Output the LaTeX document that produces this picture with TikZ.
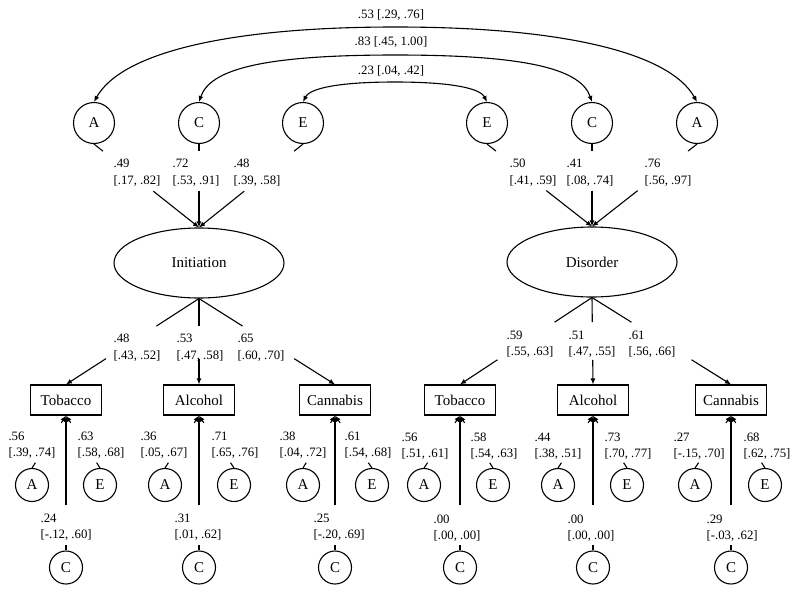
\documentclass[tikz,border=0pt]{standalone}
\usepackage{fontspec}
\setmainfont{Liberation Serif}
\usetikzlibrary{arrows.meta,shapes.geometric}
\begin{document}
\begin{tikzpicture}[x=1pt,y=-1pt,line width=1.1pt,
 arr/.style={-{Latex[length=6pt,width=5pt]}},
 darr/.style={{Latex[length=6pt,width=5pt]}-{Latex[length=6pt,width=5pt]}},
 bigc/.style={circle,draw,minimum size=41pt,inner sep=0pt,font=\fontsize{15}{18}\selectfont},
 smallc/.style={circle,draw,minimum size=33pt,inner sep=0pt,font=\fontsize{15}{18}\selectfont},
 lat/.style={ellipse,draw,minimum width=170pt,minimum height=70pt,inner sep=0pt,font=\fontsize{15}{18}\selectfont},
 obs/.style={rectangle,draw,minimum width=71pt,minimum height=30pt,inner sep=0pt,font=\fontsize{15}{18}\selectfont},
 lab/.style={align=left,anchor=base west,inner sep=0pt,yshift=-16.3pt,font=\fontsize{12.8}{16.3}\selectfont},
 arclab/.style={anchor=base,inner sep=0pt,font=\fontsize{12.8}{16}\selectfont}]
\useasboundingbox (0,0) rectangle (800,592);

% top latent factors
\node[bigc] (A1) at (94,123) {A};
\node[bigc] (C1) at (199,123) {C};
\node[bigc] (E1) at (303,123) {E};
\node[bigc] (E2) at (487,123) {E};
\node[bigc] (C2) at (592,123) {C};
\node[bigc] (A2) at (697,123) {A};

\node[lat] (Init) at (199,263) {Initiation};
\node[lat] (Dis) at (592,262) {Disorder};

% correlations
\draw[darr] (A1.north) .. controls (120,55) and (220,27) .. (395.5,27)
  .. controls (571,27) and (671,55) .. (A2.north);
\draw[darr] (C1.north) .. controls (210,70) and (260,55) .. (395.5,55)
  .. controls (531,55) and (581,70) .. (C2.north);
\draw[darr] (E1.north) .. controls (310,88) and (340,82) .. (395,82)
  .. controls (450,82) and (480,88) .. (E2.north);
\node[arclab] (r1) at (391,18.3) {.53 [.29, .76]};
\node[arclab] (r2) at (391,45) {.83 [.45, 1.00]};
\node[arclab] (r3) at (391,74) {.23 [.04, .42]};

% paths to latent
\foreach \s/\t in {A1/Init,C1/Init,E1/Init,E2/Dis,C2/Dis,A2/Dis}{
  \path (\s.south) -- (\t.north) coordinate[pos=0.085] (\s-p) coordinate[pos=0.565] (\s-q);
  \draw (\s.south) -- (\s-p);
  \draw[arr] (\s-q) -- (\t.north);
}
\node[lab] (lA1) at (113,167.7) {.49\\{}[.17, .82]};
\node[lab] (lC1) at (172,167.7) {.72\\{}[.53, .91]};
\node[lab] (lE1) at (233,167.7) {.48\\{}[.39, .58]};
\node[lab] (lE2) at (509,167.7) {.50\\{}[.41, .59]};
\node[lab] (lC2) at (566,167.7) {.41\\{}[.08, .74]};
\node[lab] (lA2) at (644,167.7) {.76\\{}[.56, .97]};

% observed variables with their own A, C, E
\foreach \n/\bx/\ax/\ex/\txt in {T1/66/32/100/Tobacco,Al1/199/165/234/Alcohol,Ca1/335/303/372/Cannabis,
  T2/460/424/493/Tobacco,Al2/593/558/627/Alcohol,Ca2/731/695/765/Cannabis}{
  \node[obs] (\n) at (\bx,400) {\txt};
  \node[smallc] (\n-a) at (\ax,485) {A};
  \node[smallc] (\n-e) at (\ex,485) {E};
  \node[smallc] (\n-c) at (\bx,567.5) {C};
  \path (\n-c.north) -- (\n.south) coordinate[pos=0.04] (\n-cp) coordinate[pos=0.336] (\n-cq);
  \draw (\n-c.north) -- (\n-cp);
  \draw[arr] (\n-cq) -- (\n.south);
  \path (\n-a.north) -- (\n.south) coordinate[pos=0.1] (\n-ap) coordinate[pos=0.86] (\n-aq);
  \draw (\n-a.north) -- (\n-ap);
  \draw[arr] (\n-aq) -- (\n.south);
  \path (\n-e.north) -- (\n.south) coordinate[pos=0.1] (\n-ep) coordinate[pos=0.86] (\n-eq);
  \draw (\n-e.north) -- (\n-ep);
  \draw[arr] (\n-eq) -- (\n.south);
}

% loadings
\foreach \s/\t/\f/\g in {Init/T1/0.32/0.70,Init/Al1/0.32/0.70,Init/Ca1/0.32/0.70,
  Dis/T2/0.284/0.716,Dis/Al2/0.284/0.716,Dis/Ca2/0.284/0.716}{
  \path (\s.south) -- (\t.north) coordinate[pos=\f] (\t-p) coordinate[pos=\g] (\t-q);
  \draw (\s.south) -- (\t-p);
  \draw[arr] (\t-q) -- (\t.north);
}
\node[lab] (lT1) at (113,342.7) {.48\\{}[.43, .52]};
\node[lab] (lAl1) at (176,342.7) {.53\\{}[.47, .58]};
\node[lab] (lCa1) at (237,342.7) {.65\\{}[.60, .70]};
\node[lab] (lT2) at (506,339.3) {.59\\{}[.55, .63]};
\node[lab] (lAl2) at (568,339.3) {.51\\{}[.47, .55]};
\node[lab] (lCa2) at (628,339.3) {.61\\{}[.56, .66]};

% A and E labels
\node[lab] (aT1) at (8,440) {.56\\{}[.39, .74]};
\node[lab] (eT1) at (77,440) {.63\\{}[.58, .68]};
\node[lab] (aAl1) at (140,440) {.36\\{}[.05, .67]};
\node[lab] (eAl1) at (211,440) {.71\\{}[.65, .76]};
\node[lab] (aCa1) at (279,440) {.38\\{}[.04, .72]};
\node[lab] (eCa1) at (344,440) {.61\\{}[.54, .68]};
\node[lab] (aT2) at (401,441) {.56\\{}[.51, .61]};
\node[lab] (eT2) at (470,441) {.58\\{}[.54, .63]};
\node[lab] (aAl2) at (534,441) {.44\\{}[.38, .51]};
\node[lab] (eAl2) at (604,441) {.73\\{}[.70, .77]};
\node[lab] (aCa2) at (673,441) {.27\\{}[-.15, .70]};
\node[lab] (eCa2) at (743,441) {.68\\{}[.62, .75]};

% C labels
\node[lab] (cT1) at (40,522.5) {.24\\{}[-.12, .60]};
\node[lab] (cAl1) at (174,522.5) {.31\\{}[.01, .62]};
\node[lab] (cCa1) at (313,522.5) {.25\\{}[-.20, .69]};
\node[lab] (cT2) at (433,523.5) {.00\\{}[.00, .00]};
\node[lab] (cAl2) at (567,523.5) {.00\\{}[.00, .00]};
\node[lab] (cCa2) at (706,523.5) {.29\\{}[-.03, .62]};
\end{tikzpicture}
\end{document}
